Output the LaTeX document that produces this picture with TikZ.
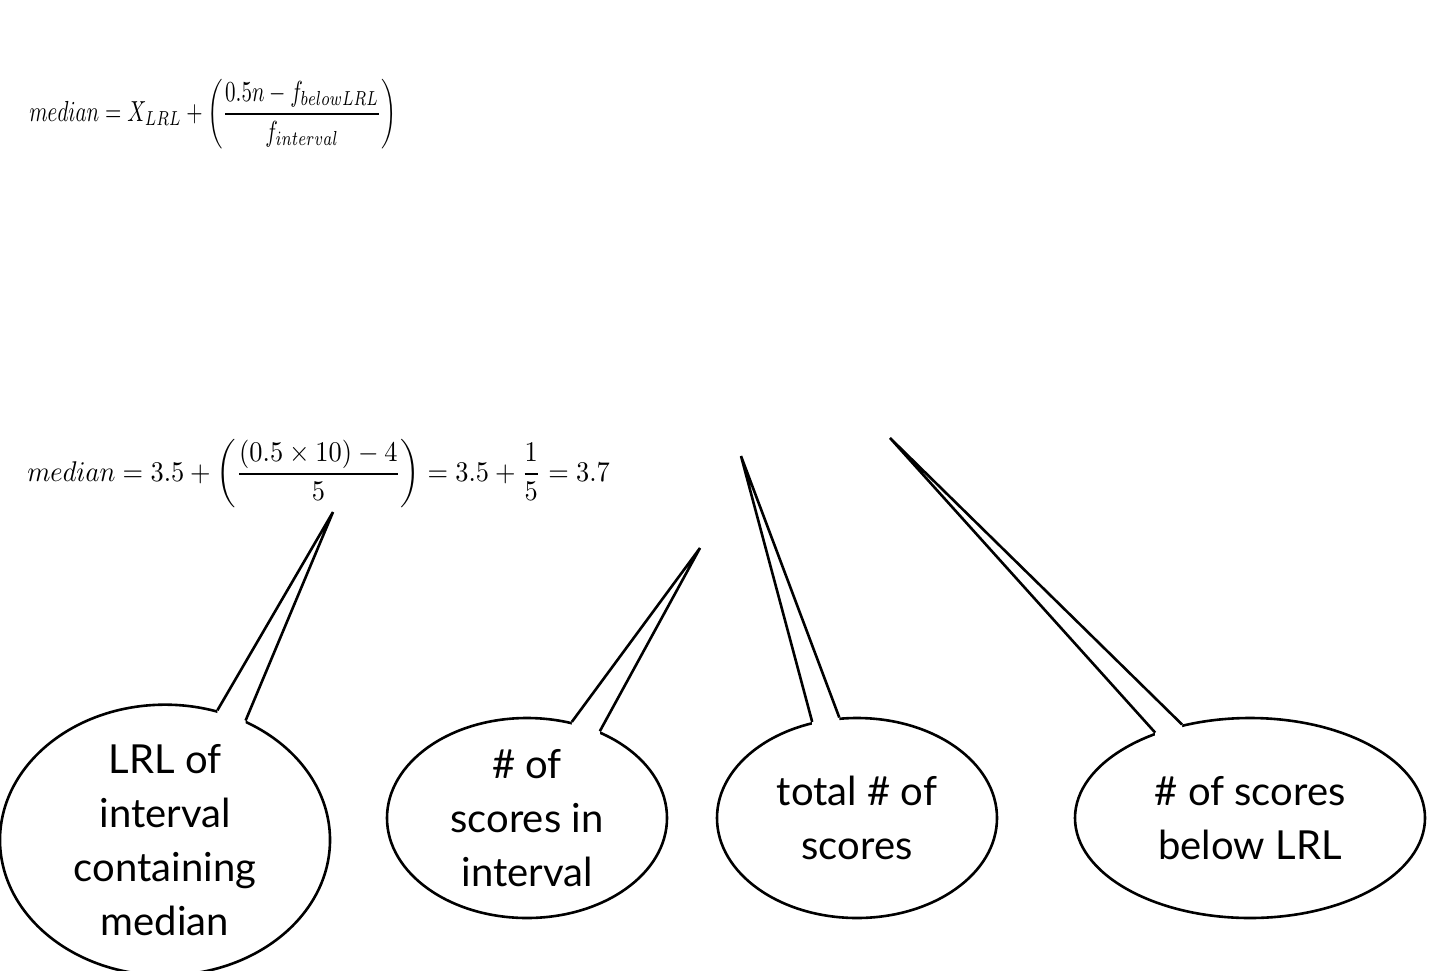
\documentclass[tikz,border=0pt]{standalone}
\usepackage{fontspec}
\usepackage{amsmath}
\newfontfamily\callfont{Lato}
\usetikzlibrary{shapes.geometric,calc}
\begin{document}
\begin{tikzpicture}[x=1pt,y=-1pt,line width=2.6pt,
  callout/.style={ellipse,draw,fill=white,align=center,inner sep=0pt,font=\callfont\fontsize{40}{54}\selectfont},
  formula/.style={anchor=west,inner sep=0pt}]
\useasboundingbox (0,0) rectangle (1440,970);
\node[formula] (f1) at (28,114) {\scalebox{2.1}[2.9]{$\displaystyle median = X_{LRL} + \left(\frac{0.5n - f_{belowLRL}}{f_{interval}}\right)$}};
\node[formula] (f2) at (26,474) {\scalebox{2.64}[2.85]{$\displaystyle median = 3.5 + \left(\frac{(0.5\times 10) - 4}{5}\right) = 3.5 + \frac{1}{5} = 3.7$}};
\node[callout,minimum width=330,minimum height=250] (e1) at (165,840) {LRL of\\interval\\containing\\median};
\node[callout,minimum width=280,minimum height=200] (e2) at (527,818) {\# of\\scores in\\interval};
\node[callout,minimum width=280,minimum height=200] (e3) at (857,818) {total \# of\\scores};
\node[callout,minimum width=350,minimum height=200] (e4) at (1250,818) {\# of scores\\below LRL};
\coordinate (t1) at (333,512);
\coordinate (t2) at (700,548);
\coordinate (t3) at (741,456);
\coordinate (t4) at (890,438);
\foreach \e/\t/\a/\b in {e1/t1/68/56, e2/t2/65/50, e3/t3/115/100, e4/t4/138/126}{
  \fill[white] ($(\e.\a)+(0,6)$) -- ($(\e.\b)+(0,6)$) -- ($(\e.\b)+(0,-2)$) -- ($(\e.\a)+(0,-2)$) -- cycle;
  \draw (\e.\a) -- (\t) -- (\e.\b);
}
\end{tikzpicture}
\end{document}
